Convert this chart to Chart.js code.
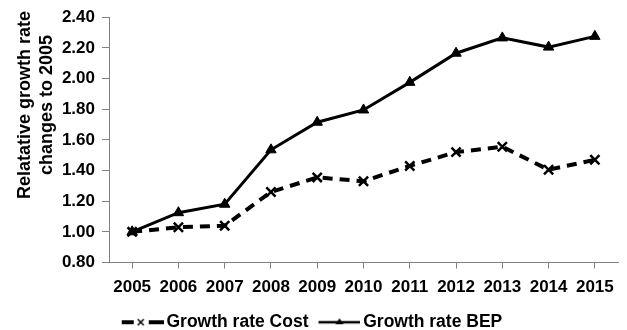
<!DOCTYPE html>
<html>
<head>
<meta charset="utf-8">
<script src="https://cdn.jsdelivr.net/npm/chart.js@4"></script>
<style>
  html, body { margin: 0; padding: 0; background: #fff; }
  #wrap { width: 627px; height: 330px; position: relative; }
</style>
</head>
<body>
<div id="wrap"><canvas id="chart"></canvas></div>
<script>
const years = ['2005', '2006', '2007', '2008', '2009', '2010', '2011', '2012', '2013', '2014', '2015'];
const costGrowth = [1.00, 1.03, 1.04, 1.26, 1.355, 1.33, 1.43, 1.52, 1.555, 1.405, 1.47];
const bepGrowth = [1.00, 1.125, 1.18, 1.535, 1.715, 1.795, 1.975, 2.165, 2.265, 2.205, 2.275];
const yTitle = ['Relatative growth rate', 'changes to 2005'];

const FONT = "'Liberation Sans', Arial, sans-serif";

// little legend icons: line - marker - line (drawn a bit right of the canvas centre)
function legendIcon(dashed, marker) {
    let c = document.createElement('canvas');
    c.width = 54;
    c.height = 16;
    let ctx = c.getContext('2d');
    ctx.translate(12, 0);
    ctx.strokeStyle = '#000';
    ctx.fillStyle = '#000';
    if (dashed) {
        ctx.lineWidth = 4;
        ctx.beginPath();
        ctx.moveTo(0, 8); ctx.lineTo(12, 8);
        ctx.moveTo(27, 8); ctx.lineTo(42, 8);
        ctx.stroke();
    } else {
        ctx.lineWidth = 2.5;
        ctx.beginPath();
        ctx.moveTo(0, 8); ctx.lineTo(42, 8);
        ctx.stroke();
    }
    ctx.lineWidth = 1.5;
    if (marker === 'x') {
        ctx.beginPath();
        ctx.moveTo(16, 5); ctx.lineTo(22, 11);
        ctx.moveTo(22, 5); ctx.lineTo(16, 11);
        ctx.stroke();
    } else {
        ctx.beginPath();
        ctx.moveTo(21, 4); ctx.lineTo(25, 10); ctx.lineTo(17, 10);
        ctx.closePath();
        ctx.fill();
    }
    return c;
}

// y title sits higher than the axis middle, so draw it by hand
const yTitlePlugin = {
    id: 'yTitle',
    afterDraw(ch) {
        let ctx = ch.ctx;
        ctx.save();
        ctx.font = "bold 18px " + FONT;
        ctx.fillStyle = '#000';
        ctx.textAlign = 'center';
        ctx.textBaseline = 'middle';
        yTitle.forEach((t, i) => {
            ctx.save();
            ctx.translate(25 + i * 22, 105);
            ctx.rotate(-Math.PI / 2);
            ctx.fillText(t, 0, 0);
            ctx.restore();
        });
        ctx.restore();
    }
};

let chart = new Chart(document.getElementById('chart'), {
    type: 'line',
    data: {
        labels: years,
        datasets: [{
            label: 'Growth rate Cost',
            data: costGrowth,
            borderColor: '#000',
            backgroundColor: '#000',
            borderWidth: 4,
            borderDash: [10, 7],
            pointStyle: 'crossRot',
            pointRadius: 6.5,
            pointBorderWidth: 2.5,
            tension: 0
        }, {
            label: 'Growth rate BEP',
            data: bepGrowth,
            borderColor: '#000',
            backgroundColor: '#000',
            borderWidth: 3,
            pointStyle: 'triangle',
            pointRadius: 6,
            pointBorderWidth: 1,
            tension: 0
        }]
    },
    plugins: [yTitlePlugin],
    options: {
        responsive: true,
        maintainAspectRatio: false,
        animation: false,
        layout: { padding: { left: 0, right: 9, top: 12, bottom: -11 } },
        plugins: {
            tooltip: { enabled: false },
            legend: {
                position: 'bottom',
                labels: {
                    usePointStyle: true,
                    pointStyleWidth: 42,
                    padding: 4,
                    color: '#000',
                    font: { family: FONT, size: 17.5, weight: 'bold' },
                    generateLabels: ch => ch.data.datasets.map((ds, i) => ({
                        text: ds.label,
                        pointStyle: legendIcon(i === 0, i === 0 ? 'x' : 'tri'),
                        fillStyle: '#000',
                        strokeStyle: '#000',
                        lineWidth: 0,
                        hidden: false,
                        datasetIndex: i
                    }))
                }
            }
        },
        scales: {
            x: {
                offset: true,
                grid: { drawOnChartArea: false, drawTicks: true, tickLength: 6, color: '#808080' },
                border: { color: '#808080', width: 1 },
                ticks: {
                    color: '#000',
                    padding: 9,
                    maxRotation: 0,
                    autoSkip: false,
                    font: { family: FONT, size: 17, weight: 'bold' }
                },
                afterFit: s => { s.height = 47; }
            },
            y: {
                min: 0.8,
                max: 2.4,
                grid: { drawOnChartArea: false, drawTicks: true, tickLength: 7, color: '#808080' },
                border: { color: '#808080', width: 1 },
                ticks: {
                    stepSize: 0.2,
                    color: '#000',
                    padding: 7,
                    font: { family: FONT, size: 17, weight: 'bold' },
                    callback: v => v.toFixed(2)
                },
                afterFit: s => { s.width = 109; }
            }
        }
    }
});
</script>
</body>
</html>
